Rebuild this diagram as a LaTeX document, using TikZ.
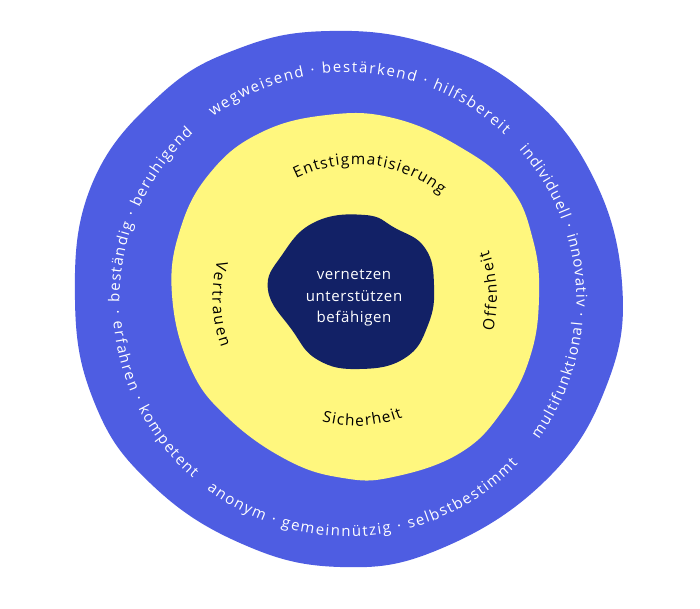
\documentclass[tikz,border=0pt]{standalone}
\usepackage{fontspec}
\setmainfont{Open Sans}
\usetikzlibrary{decorations.text}

\definecolor{ringblue}{HTML}{4E5DE2}
\definecolor{ringyellow}{HTML}{FFF77E}
\definecolor{corenavy}{HTML}{122166}

\newcommand\ringfont{\fontsize{15}{17}\selectfont}
\newcommand\valuefont{\fontsize{15.5}{17}\selectfont}
\newcommand\corefont{\fontsize{15}{21.5}\selectfont\addfontfeature{LetterSpace=4}}

\tikzset{
	ringword/.style={decorate, decoration={text along path, text align=fit to path,
		text color=white, text={|\ringfont|#1}}},
	valueword/.style={decorate, decoration={text along path, text align=fit to path,
		text color=black, text={|\valuefont|#1}}},
}

\begin{document}
\begin{tikzpicture}[x=1pt, y=1pt]
	\useasboundingbox[fill=white] (0,0) rectangle (700,609);
	\coordinate (Co) at (348,308);
	\coordinate (Ci) at (356,311);

	% outer ring
	\fill[ringblue] plot[smooth cycle, tension=0.7] coordinates {
		(75,309) (92,425) (160,514) (240,561) (330,578) (430,565) (520,521) (590,438)
		(622,326) (606,222) (545,128) (440,60) (340,42) (240,66) (150,126) (95,205)};
	% middle ring
	\fill[ringyellow] plot[smooth cycle, tension=0.7] coordinates {
		(172,314) (180,379) (210,436) (260,476) (327,494) (393,491) (460,462) (510,422)
		(533,369) (539,312) (530,252) (503,199) (460,156) (393,132) (343,131) (287,149)
		(227,192) (190,242)};
	% core
	\fill[corenavy] plot[smooth cycle, tension=0.75] coordinates {
		(268,319) (282,354) (315,387) (365,394) (395,381) (425,361) (434,324) (428,284)
		(405,251) (360,240) (318,249) (292,279)};

	\node[text=white, align=center, font=\corefont] (kern) at (354,311)
		{vernetzen\\unterstützen\\befähigen};

	% words on the outer ring, upper half
	\path[ringword={beständig · beruhigend}]
		(Co) ++(180.3:228.5pt) arc[start angle=180.3, end angle=132.6, radius=228.5pt];
	\path[ringword={wegweisend · bestärkend · hilfsbereit}]
		(Co) ++(126.2:228.5pt) arc[start angle=126.2, end angle=46.8, radius=228.5pt];
	\path[ringword={individuell · innovativ ·}]
		(Co) ++(41.5:228.5pt) arc[start angle=41.5, end angle=-3.9, radius=228.5pt];
	% lower half
	\path[ringword={· erfahren · kompetent}]
		(Co) ++(182.4:235.5pt) arc[start angle=182.4, end angle=228.8, radius=235.5pt];
	\path[ringword={anonym · gemeinnützig · selbstbestimmt}]
		(Co) ++(233.2:235.5pt) arc[start angle=233.2, end angle=316.2, radius=235.5pt];
	\path[ringword={multifunktional}]
		(Co) ++(324.1:235.5pt) arc[start angle=324.1, end angle=354.7, radius=235.5pt];

	% words on the yellow ring
	\path[valueword={Entstigmatisierung}]
		(Ci) ++(116.6:133.5pt) arc[start angle=116.6, end angle=50.4, radius=133.5pt];
	\path[valueword={Offenheit}]
		(Ci) ++(-13.6:141pt) arc[start angle=-13.6, end angle=19.8, radius=141pt];
	\path[valueword={Vertrauen}]
		(Ci) ++(164.8:143.5pt) arc[start angle=164.8, end angle=200.3, radius=143.5pt];
	\path[valueword={Sicherheit}]
		(Ci) ++(254.6:128pt) arc[start angle=254.6, end angle=291.4, radius=128pt];
\end{tikzpicture}
\end{document}
